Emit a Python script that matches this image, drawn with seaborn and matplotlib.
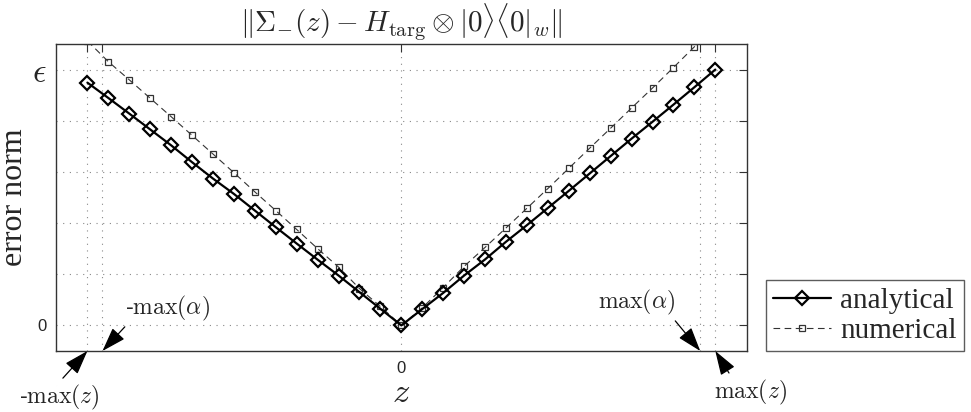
import numpy as np
import pandas as pd
import matplotlib
matplotlib.use("Agg")
import matplotlib.pyplot as plt
import seaborn as sns

# ---------------- data ----------------
z_max = 1.0
alpha_max = 0.952
z_values = np.linspace(-1.0, 1.0, 31)

analytical = [0.949, 0.889, 0.828, 0.766, 0.704, 0.638, 0.574, 0.514, 0.449, 0.384,
              0.320, 0.257, 0.195, 0.130, 0.065, 0.0,
              0.064, 0.127, 0.195, 0.258, 0.327, 0.392, 0.459, 0.526, 0.594, 0.662,
              0.730, 0.796, 0.863, 0.931, 1.0]
numerical = [1.112, 1.031, 0.960, 0.888, 0.816, 0.743, 0.670, 0.597, 0.522, 0.449,
             0.375, 0.300, 0.228, 0.144, 0.074, 0.0,
             0.069, 0.148, 0.231, 0.305, 0.381, 0.458, 0.535, 0.614, 0.693, 0.771,
             0.850, 0.928, 1.008, 1.089, 1.168]

x_ticks = [-z_max, -alpha_max, 0.0, alpha_max, z_max]
x_ticklabels = ["", "", "0", "", ""]
y_ticks = [0.0, 0.2, 0.4, 0.6, 0.8, 1.0]
y_ticklabels = ["0", "", "", "", "", r"$\epsilon$"]

df = pd.DataFrame({"z": z_values, "analytical": analytical, "numerical": numerical})

# ---------------- style ----------------
sns.set_style("white")
plt.rcParams["mathtext.fontset"] = "cm"
plt.rcParams["font.family"] = ["Liberation Sans", "DejaVu Sans"]

fig = plt.figure(figsize=(9.71, 4.12), dpi=100)
ax = fig.add_axes([56 / 971, 1 - 351 / 412, (746.7 - 56) / 971, (351 - 44) / 412])

sns.lineplot(data=df, x="z", y="numerical", ax=ax, color="#333333", linewidth=0.8,
             linestyle=(0, (6, 4)), marker="s", markersize=4, markerfacecolor="none",
             markeredgecolor="#333333", markeredgewidth=0.9, label="numerical")
sns.lineplot(data=df, x="z", y="analytical", ax=ax, color="black", linewidth=1.6,
             marker="D", markersize=7.5, markerfacecolor="none",
             markeredgecolor="black", markeredgewidth=1.6, label="analytical")

ax.set_xlim(-1.1, 1.1)
ax.set_ylim(-0.1, 1.1)
ax.set_xticks(x_ticks)
ax.set_xticklabels(x_ticklabels, fontsize=12)
ax.set_yticks(y_ticks)
ax.set_yticklabels(y_ticklabels)
for lab in ax.get_yticklabels():
    if lab.get_text() == "0":
        lab.set_fontsize(12)
    else:
        lab.set_fontsize(24)

ax.tick_params(direction="in", top=True, right=True, length=6, width=0.8,
               color="#333333", pad=7)
ax.grid(True, color="#888888", linestyle=(0, (1, 5)), linewidth=0.8)
for s in ax.spines.values():
    s.set_color("#333333")
    s.set_linewidth(1.0)

ax.set_title(r"$\Vert\Sigma_{-}(z) - H_{\rm targ}\otimes|0\rangle\langle 0|_{w}\Vert$",
             fontsize=21, pad=9)
ax.set_xlabel(r"$z$", fontsize=25, labelpad=0)
ax.set_ylabel("error norm", fontsize=23, family=["Liberation Serif"], labelpad=2)

# legend (analytical first)
handles, labels = ax.get_legend_handles_labels()
order = [labels.index("analytical"), labels.index("numerical")]
leg = fig.legend([handles[i] for i in order], [labels[i] for i in order],
                 loc="lower right", bbox_to_anchor=(964 / 971, 1 - 351 / 412),
                 bbox_transform=fig.transFigure, frameon=True, fancybox=False,
                 prop={"family": "Liberation Serif", "size": 21},
                 handlelength=2.0, handletextpad=0.3, borderpad=0.25,
                 labelspacing=0.12, borderaxespad=0)
leg.get_frame().set_edgecolor("#333333")
leg.get_frame().set_linewidth(1.0)
if ax.get_legend() is not None:
    ax.get_legend().remove()

# annotations
xtrans = ax.get_xaxis_transform()
arrow = dict(arrowstyle="-|>,head_length=0.75,head_width=0.25", color="black",
             lw=0.9, mutation_scale=20, shrinkA=1, shrinkB=0)
ann = [
    (r"-$\mathrm{max}(\alpha)$", -alpha_max, (167, 104), (0.05, 0.0)),
    (r"-$\mathrm{max}(z)$", -z_max, (59, 15), (0.5, 1.0)),
    (r"$\mathrm{max}(\alpha)$", alpha_max, (637, 110), (0.95, 0.0)),
    (r"$\mathrm{max}(z)$", z_max, (750, 20), (0.25, 1.0)),
]
for txt, xv, pos, rp in ann:
    a = dict(arrow)
    a["relpos"] = rp
    ax.annotate(txt, xy=(xv, 0), xycoords=xtrans, xytext=pos,
                textcoords="figure pixels", ha="center", va="center",
                fontsize=17, arrowprops=a, annotation_clip=False)

fig.savefig("out.png", dpi=100)
